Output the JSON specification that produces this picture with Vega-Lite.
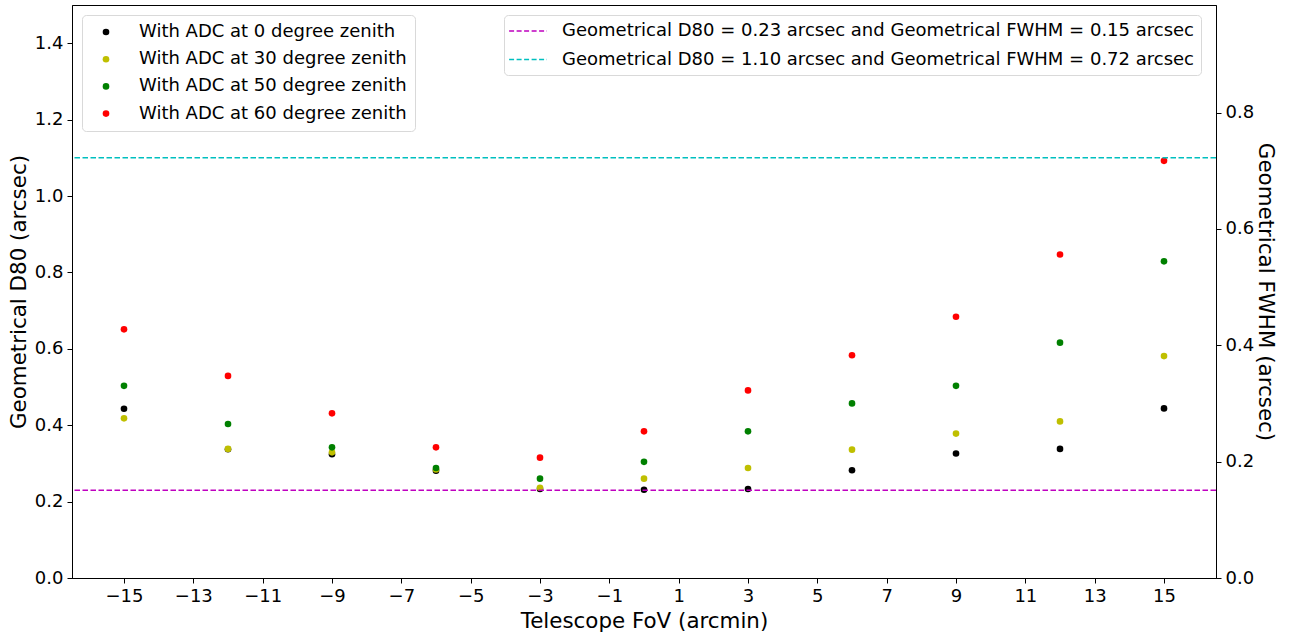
{
  "$schema": "https://vega.github.io/schema/vega-lite/v6.json",
  "width": 1144,
  "height": 573,
  "autosize": {"type": "none"},
  "padding": {"left": 72, "top": 5, "right": 75, "bottom": 56},
  "config": {
    "font": "DejaVu Sans",
    "view": {"stroke": "#000", "strokeWidth": 1},
    "axis": {
      "grid": false,
      "domainColor": "#000",
      "tickColor": "#000",
      "labelColor": "#000",
      "titleColor": "#000",
      "labelFontSize": 18,
      "titleFontSize": 21.4,
      "titleFontWeight": "normal",
      "tickSize": 5,
      "labelPadding": 4
    },
    "legend": {
      "labelFontSize": 18,
      "labelColor": "#000",
      "labelLimit": 1000,
      "strokeColor": "#d9d9d9",
      "fillColor": "#ffffff",
      "cornerRadius": 4
    }
  },
  "datasets": {
    "pts": [
      {"fov": -15, "zenith": "With ADC at 0 degree zenith", "d80": 0.443},
      {"fov": -12, "zenith": "With ADC at 0 degree zenith", "d80": 0.337},
      {"fov": -9, "zenith": "With ADC at 0 degree zenith", "d80": 0.324},
      {"fov": -6, "zenith": "With ADC at 0 degree zenith", "d80": 0.281},
      {"fov": -3, "zenith": "With ADC at 0 degree zenith", "d80": 0.233},
      {"fov": 0, "zenith": "With ADC at 0 degree zenith", "d80": 0.231},
      {"fov": 3, "zenith": "With ADC at 0 degree zenith", "d80": 0.233},
      {"fov": 6, "zenith": "With ADC at 0 degree zenith", "d80": 0.282},
      {"fov": 9, "zenith": "With ADC at 0 degree zenith", "d80": 0.326},
      {"fov": 12, "zenith": "With ADC at 0 degree zenith", "d80": 0.338},
      {"fov": 15, "zenith": "With ADC at 0 degree zenith", "d80": 0.444},
      {"fov": -15, "zenith": "With ADC at 30 degree zenith", "d80": 0.418},
      {"fov": -12, "zenith": "With ADC at 30 degree zenith", "d80": 0.338},
      {"fov": -9, "zenith": "With ADC at 30 degree zenith", "d80": 0.329},
      {"fov": -6, "zenith": "With ADC at 30 degree zenith", "d80": 0.284},
      {"fov": -3, "zenith": "With ADC at 30 degree zenith", "d80": 0.236},
      {"fov": 0, "zenith": "With ADC at 30 degree zenith", "d80": 0.260},
      {"fov": 3, "zenith": "With ADC at 30 degree zenith", "d80": 0.288},
      {"fov": 6, "zenith": "With ADC at 30 degree zenith", "d80": 0.336},
      {"fov": 9, "zenith": "With ADC at 30 degree zenith", "d80": 0.378},
      {"fov": 12, "zenith": "With ADC at 30 degree zenith", "d80": 0.410},
      {"fov": 15, "zenith": "With ADC at 30 degree zenith", "d80": 0.581},
      {"fov": -15, "zenith": "With ADC at 50 degree zenith", "d80": 0.503},
      {"fov": -12, "zenith": "With ADC at 50 degree zenith", "d80": 0.403},
      {"fov": -9, "zenith": "With ADC at 50 degree zenith", "d80": 0.342},
      {"fov": -6, "zenith": "With ADC at 50 degree zenith", "d80": 0.288},
      {"fov": -3, "zenith": "With ADC at 50 degree zenith", "d80": 0.260},
      {"fov": 0, "zenith": "With ADC at 50 degree zenith", "d80": 0.304},
      {"fov": 3, "zenith": "With ADC at 50 degree zenith", "d80": 0.384},
      {"fov": 6, "zenith": "With ADC at 50 degree zenith", "d80": 0.457},
      {"fov": 9, "zenith": "With ADC at 50 degree zenith", "d80": 0.503},
      {"fov": 12, "zenith": "With ADC at 50 degree zenith", "d80": 0.616},
      {"fov": 15, "zenith": "With ADC at 50 degree zenith", "d80": 0.829},
      {"fov": -15, "zenith": "With ADC at 60 degree zenith", "d80": 0.651},
      {"fov": -12, "zenith": "With ADC at 60 degree zenith", "d80": 0.529},
      {"fov": -9, "zenith": "With ADC at 60 degree zenith", "d80": 0.431},
      {"fov": -6, "zenith": "With ADC at 60 degree zenith", "d80": 0.342},
      {"fov": -3, "zenith": "With ADC at 60 degree zenith", "d80": 0.315},
      {"fov": 0, "zenith": "With ADC at 60 degree zenith", "d80": 0.384},
      {"fov": 3, "zenith": "With ADC at 60 degree zenith", "d80": 0.491},
      {"fov": 6, "zenith": "With ADC at 60 degree zenith", "d80": 0.583},
      {"fov": 9, "zenith": "With ADC at 60 degree zenith", "d80": 0.684},
      {"fov": 12, "zenith": "With ADC at 60 degree zenith", "d80": 0.847},
      {"fov": 15, "zenith": "With ADC at 60 degree zenith", "d80": 1.092}
    ],
    "refs": [
      {"label": "Geometrical D80 = 0.23 arcsec and Geometrical FWHM = 0.15 arcsec", "d80": 0.23, "fwhm": 0.15},
      {"label": "Geometrical D80 = 1.10 arcsec and Geometrical FWHM = 0.72 arcsec", "d80": 1.10, "fwhm": 0.72}
    ]
  },
  "layer": [
    {
      "layer": [
        {
          "data": {"name": "pts"},
          "mark": {"type": "circle", "size": 44, "opacity": 1},
          "encoding": {
            "x": {
              "field": "fov", "type": "quantitative",
              "scale": {"domain": [-16.5, 16.5], "nice": false, "zero": false},
              "axis": {"values": [-15, -13, -11, -9, -7, -5, -3, -1, 1, 3, 5, 7, 9, 11, 13, 15], "title": "Telescope FoV (arcmin)", "titlePadding": 5}
            },
            "y": {
              "field": "d80", "type": "quantitative",
              "scale": {"domain": [0, 1.5], "nice": false},
              "axis": {"orient": "left", "values": [0, 0.2, 0.4, 0.6, 0.8, 1.0, 1.2, 1.4], "format": ".1f", "title": "Geometrical D80 (arcsec)", "titlePadding": 5}
            },
            "fill": {
              "field": "zenith", "type": "nominal",
              "scale": {"domain": ["With ADC at 0 degree zenith", "With ADC at 30 degree zenith", "With ADC at 50 degree zenith", "With ADC at 60 degree zenith"], "range": ["#000000", "#bfbf00", "#008000", "#ff0000"]},
              "legend": {
                "title": null, "orient": "none", "legendX": 10, "legendY": 10,
                "symbolType": "circle", "symbolSize": 44,
                "padding": 8, "rowPadding": 9.2, "labelOffset": 24, "symbolOffset": 7
              }
            }
          }
        },
        {
          "data": {"name": "refs"},
          "mark": {"type": "rule", "strokeWidth": 1.5, "strokeDash": [5.5, 2.5]},
          "encoding": {
            "y": {"field": "d80", "type": "quantitative"},
            "stroke": {
              "field": "label", "type": "nominal",
              "scale": {"domain": ["Geometrical D80 = 0.23 arcsec and Geometrical FWHM = 0.15 arcsec", "Geometrical D80 = 1.10 arcsec and Geometrical FWHM = 0.72 arcsec"], "range": ["#bf00bf", "#00bfbf"]},
              "legend": {
                "title": null, "orient": "none", "legendX": 432, "legendY": 10,
                "symbolType": "M-2.1,0H2.1", "symbolSize": 324, "symbolDash": [5, 2.5], "symbolStrokeWidth": 1.5,
                "padding": 6, "rowPadding": 9.5, "labelOffset": 24, "symbolOffset": 8
              }
            }
          }
        }
      ]
    },
    {
      "data": {"name": "refs"},
      "mark": {"type": "rule", "opacity": 0},
      "encoding": {
        "y": {
          "field": "fwhm", "type": "quantitative",
          "scale": {"domain": [0, 0.985], "nice": false},
          "axis": {"orient": "right", "values": [0, 0.2, 0.4, 0.6, 0.8], "format": ".1f", "title": "Geometrical FWHM (arcsec)", "titlePadding": 1}
        }
      }
    }
  ],
  "resolve": {"scale": {"y": "independent"}}
}
